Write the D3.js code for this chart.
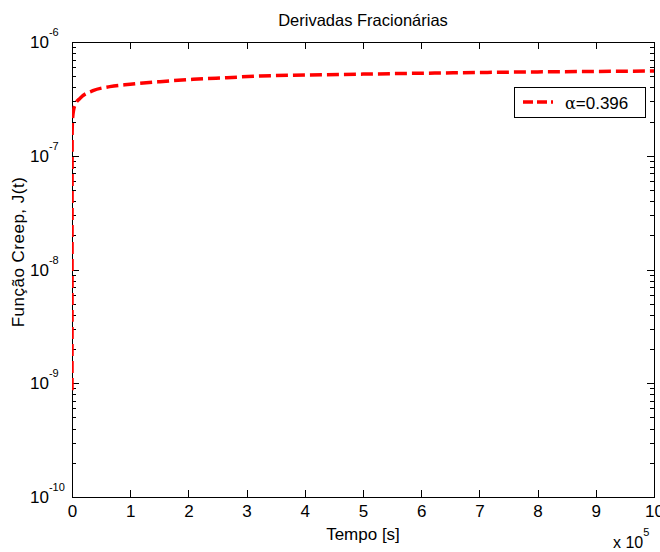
<!DOCTYPE html>
<html>
<head>
<meta charset="utf-8">
<script src="https://cdn.jsdelivr.net/npm/d3@7"></script>
<style>
  html, body { margin: 0; padding: 0; background: #fff; }
  svg { display: block; }
  text { font-family: "Liberation Sans", Arial, Helvetica, sans-serif; fill: #000; }
</style>
</head>
<body>
<svg id="chart" width="660" height="552"></svg>
<script>
// ---- data ----
const title = "Derivadas Fracionárias";
const xLabel = "Tempo [s]";
const yLabel = "Função Creep, J(t)";
const seriesName = "=0.396";        // preceded by α
const xTickValues = [0, 1, 2, 3, 4, 5, 6, 7, 8, 9, 10];   // × 10^5 s
const yDecades = [-10, -9, -8, -7, -6];
const timeS = [0, 200, 1200, 5000, 13700, 36000, 65000, 100000, 151000, 208000, 266000,
               323000, 400000, 500000, 655000, 800000, 900000, 1000000];
const creepJ = [8.7e-10, 1.6e-7, 2.2e-7, 2.79e-7, 3.2e-7, 3.73e-7, 4.05e-7, 4.25e-7, 4.48e-7,
                4.7e-7, 4.86e-7, 5.02e-7, 5.12e-7, 5.22e-7, 5.36e-7, 5.46e-7, 5.51e-7, 5.56e-7];

// ---- layout ----
const L = 72, R = 654, T = 42, B = 497;
const svg = d3.select("#chart");

const x = d3.scaleLinear().domain([0, 10e5]).range([L, R]);
const y = d3.scaleLog().domain([1e-10, 1e-6]).range([B, T]);

const majorY = yDecades.map(e => Math.pow(10, e));
const minorY = [];
for (let e = -10; e < -6; e++) for (let m = 2; m <= 9; m++) minorY.push(m * Math.pow(10, e));
const xt = xTickValues.map(v => v * 1e5);

// clip
svg.append("clipPath").attr("id", "clip")
  .append("rect").attr("x", L).attr("y", T).attr("width", R - L).attr("height", B - T);

// box
svg.append("rect").attr("x", L + 0.5).attr("y", T + 0.5).attr("width", R - L).attr("height", B - T)
  .attr("fill", "none").attr("stroke", "#000").attr("stroke-width", 1);

// tick marks (inward), from the scales
const ticks = svg.append("g").attr("stroke", "#000").attr("stroke-width", 1);
const cx = v => Math.round(x(v)) + 0.5;
const cy = v => Math.round(y(v)) + 0.5;
ticks.selectAll(".xb").data(xt).join("line")
  .attr("x1", cx).attr("x2", cx).attr("y1", B).attr("y2", B - 7);
ticks.selectAll(".xt").data(xt).join("line").attr("class", "xt")
  .attr("x1", cx).attr("x2", cx).attr("y1", T).attr("y2", T + 7);
[[L, 1], [R, -1]].forEach(([px, dir]) => {
  ticks.append("g").selectAll("line").data(majorY).join("line")
    .attr("x1", px).attr("x2", px + dir * 7).attr("y1", cy).attr("y2", cy);
  ticks.append("g").selectAll("line").data(minorY).join("line")
    .attr("x1", px).attr("x2", px + dir * 4).attr("y1", cy).attr("y2", cy);
});

// x tick labels via d3 axis (no lines)
const gx = svg.append("g").attr("transform", `translate(0,${B})`)
  .call(d3.axisBottom(x).tickValues(xt).tickSize(0).tickPadding(8)
        .tickFormat(d => d3.format("d")(d / 1e5)));
gx.select(".domain").remove();
gx.selectAll("line").remove();
gx.selectAll("text").attr("font-size", 17).attr("font-family", "Liberation Sans, Arial, sans-serif");

// y tick labels 10^n
const yl = svg.append("g");
yDecades.forEach(e => {
  const t = yl.append("text").attr("x", 30).attr("y", y(Math.pow(10, e)) + 6).attr("font-size", 17);
  t.append("tspan").text("10");
  t.append("tspan").attr("font-size", 11).attr("dy", -12).text(String(e));
});

// line
const data = timeS.map((t, i) => ({ t, j: creepJ[i] }));
const line = d3.line().x(d => x(d.t)).y(d => y(d.j)).curve(d3.curveMonotoneX);
svg.append("path").datum(data).attr("clip-path", "url(#clip)")
  .attr("d", line).attr("fill", "none").attr("stroke", "#ff0000")
  .attr("stroke-width", 3.5).attr("stroke-dasharray", "12,5");

// legend
const lg = svg.append("g");
lg.append("rect").attr("x", 514.5).attr("y", 87.5).attr("width", 131).attr("height", 30)
  .attr("fill", "#fff").attr("stroke", "#000").attr("stroke-width", 1);
lg.append("line").attr("x1", 523).attr("x2", 553).attr("y1", 102).attr("y2", 102)
  .attr("stroke", "#ff0000").attr("stroke-width", 3.5).attr("stroke-dasharray", "10,4");
const lt = lg.append("text").attr("x", 565).attr("y", 109).attr("font-size", 17);
lt.append("tspan").attr("font-family", "DejaVu Serif, serif").attr("font-size", 16).text("α");
lt.append("tspan").text(seriesName);

// titles
svg.append("text").attr("x", (L + R) / 2).attr("y", 26).attr("text-anchor", "middle")
  .attr("font-size", 16.5).text(title);
svg.append("text").attr("x", (L + R) / 2).attr("y", 540).attr("text-anchor", "middle")
  .attr("font-size", 17).text(xLabel);
svg.append("text").attr("transform", `translate(24,252) rotate(-90)`).attr("text-anchor", "middle")
  .attr("font-size", 17).attr("letter-spacing", 0.5).text(yLabel);

// x multiplier
const xm = svg.append("text").attr("x", 613).attr("y", 548).attr("font-size", 16);
xm.append("tspan").text("x 10");
xm.append("tspan").attr("font-size", 11).attr("dy", -12).text("5");
</script>
</body>
</html>
